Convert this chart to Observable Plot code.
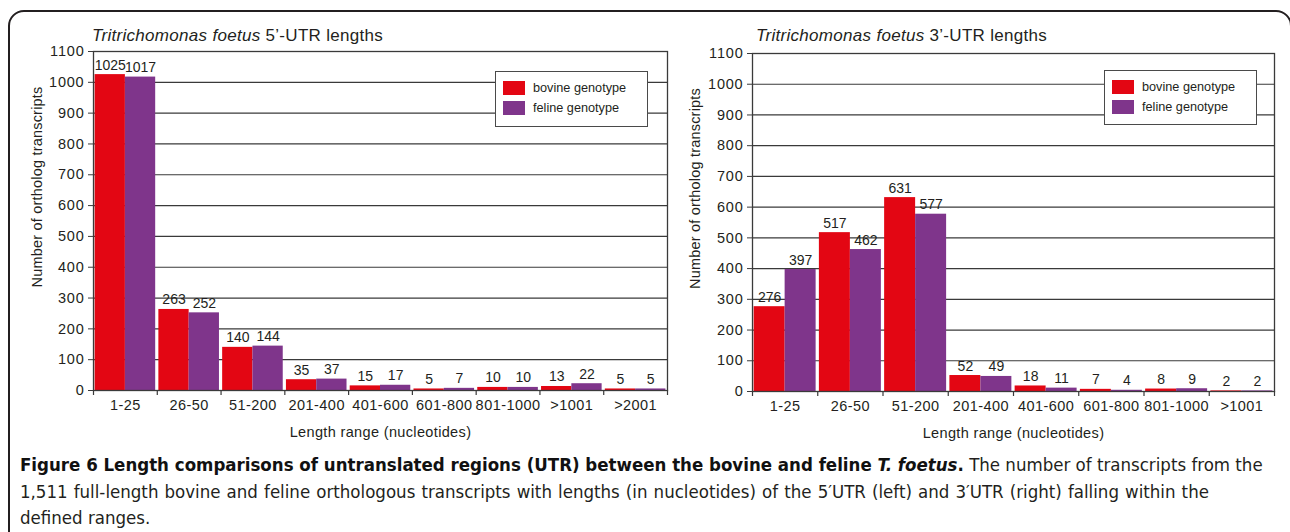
<!DOCTYPE html>
<html>
<head>
<meta charset="utf-8">
<script src="https://cdn.jsdelivr.net/npm/d3@7"></script>
<script src="https://cdn.jsdelivr.net/npm/@observablehq/plot@0.6"></script>
<style>
  html, body { margin: 0; padding: 0; background: #fff; }
  #wrap { position: relative; width: 1290px; height: 532px; overflow: hidden; background: #fff;
          font-family: "Liberation Sans", Arial, sans-serif; color: #231f20; }
  #border { position: absolute; left: 8px; top: 10px; width: 1284px; height: 600px;
            border: 2px solid #231f20; border-radius: 16px; box-sizing: border-box; }
  .chart { position: absolute; }
  .chart svg g[aria-label="y-axis tick label"] text { letter-spacing: 0.8px; }
  .chart svg g[aria-label="x-axis tick label"] text { letter-spacing: 0.45px; }
  .chart svg g.ylab text { letter-spacing: 0.2px; }
  .chart svg g[aria-label="x-axis label"] text { letter-spacing: 0.35px; }
  .title { position: absolute; font-size: 17px; line-height: 20px; white-space: nowrap; letter-spacing: 0.3px; }
  .legend { position: absolute; border: 1.5px solid #4a4a4a; background: #fff; box-sizing: border-box; }
  .legend .item { position: absolute; left: 7px; height: 14px; font-size: 12.7px; line-height: 14px; white-space: nowrap; }
  .legend .sw { display: inline-block; width: 22px; height: 14px; vertical-align: top; margin-right: 8px; }
  #caption { position: absolute; left: 20px; top: 452px; font-family: "Liberation Sans Narrow", "DejaVu Sans Condensed", "Arial Narrow", sans-serif;
             font-size: 18.5px; line-height: 26.5px; color: #231f20; white-space: nowrap; }
  #caption b { color: #111; }
  #caption .l2 { word-spacing: 0.8px; }
</style>
</head>
<body>
<div id="wrap">
  <div id="border"></div>
  <div class="title" style="left:92px; top:26px;"><i>Tritrichomonas foetus</i> 5’-UTR lengths</div>
  <div class="title" style="left:756px; top:26px;"><i>Tritrichomonas foetus</i> 3’-UTR lengths</div>
  <div id="left" class="chart" style="left:10px; top:40px;"></div>
  <div id="right" class="chart" style="left:680px; top:40px;"></div>
  <div id="legL" class="legend" style="left:495px; top:71px; width:153px; height:56px;"></div>
  <div id="legR" class="legend" style="left:1104px; top:70px; width:153px; height:55px;"></div>
  <div id="caption">
    <b>Figure 6 Length comparisons of untranslated regions (UTR) between the bovine and feline <i>T. foetus</i>.</b> The number of transcripts from the<br>
    <span class="l2">1,511 full-length bovine and feline orthologous transcripts with lengths (in nucleotides) of the 5′UTR (left) and 3′UTR (right) falling within the</span><br>
    defined ranges.
  </div>
</div>
<script>
// ---- data ----
const cats5 = ["1-25", "26-50", "51-200", "201-400", "401-600", "601-800", "801-1000", ">1001", ">2001"];
const bovine5 = [1025, 263, 140, 35, 15, 5, 10, 13, 5];
const feline5 = [1017, 252, 144, 37, 17, 7, 10, 22, 5];

const cats3 = ["1-25", "26-50", "51-200", "201-400", "401-600", "601-800", "801-1000", ">1001"];
const bovine3 = [276, 517, 631, 52, 18, 7, 8, 2];
const feline3 = [397, 462, 577, 49, 11, 4, 9, 2];

const yTicks = [0, 100, 200, 300, 400, 500, 600, 700, 800, 900, 1000, 1100];
const seriesNames = ["bovine genotype", "feline genotype"];
const seriesColors = ["#e30613", "#7f358b"];
const yLabel = "Number of ortholog transcripts";
const xLabel = "Length range (nucleotides)";

function makeChart({cats, bovine, feline, width, height, ml, mr, mt, mb, ylDx, ylDy}) {
  const pi = 0.05, po = 0.025;
  const plotW = width - ml - mr;
  const plotH = height - mt - mb;
  const step = plotW / (cats.length - pi + 2 * po);
  const bw = step * (1 - pi);
  const bov = cats.map((c, i) => ({cat: c, v: bovine[i]}));
  const fel = cats.map((c, i) => ({cat: c, v: feline[i]}));
  const ink = "#231f20";
  const font = "'Liberation Sans', Arial, sans-serif";
  return Plot.plot({
    width, height,
    marginLeft: ml, marginRight: mr, marginTop: mt, marginBottom: mb,
    style: {fontFamily: font, fontSize: "14.5px", color: ink, background: "transparent", overflow: "visible"},
    x: {type: "band", domain: cats, paddingInner: pi, paddingOuter: po, align: 0.5, round: false},
    y: {domain: [0, 1100]},
    marks: [
      Plot.ruleY(yTicks, {stroke: "#3a3a3a", strokeWidth: 1.2}),
      Plot.barY(bov, {x: "cat", y: "v", fill: seriesColors[0], insetRight: bw / 2}),
      Plot.barY(fel, {x: "cat", y: "v", fill: seriesColors[1], insetLeft: bw / 2}),
      Plot.text(bov, {x: "cat", y: "v", text: d => String(d.v), dx: -bw / 4, dy: -5, lineAnchor: "bottom", fontSize: 14, fill: ink}),
      Plot.text(fel, {x: "cat", y: "v", text: d => String(d.v), dx: bw / 4, dy: -5, lineAnchor: "bottom", fontSize: 14, fill: ink}),
      Plot.ruleX(cats, {x: d => d, dx: -step / 2, insetTop: plotH, insetBottom: -5, stroke: "#3a3a3a", strokeWidth: 1.2}),
      Plot.ruleX([cats[cats.length - 1]], {x: d => d, dx: step / 2, insetTop: plotH, insetBottom: -5, stroke: "#3a3a3a", strokeWidth: 1.2}),
      Plot.frame({stroke: "#3a3a3a", strokeWidth: 1.3}),
      Plot.axisY({ticks: yTicks, tickSize: 5, tickPadding: 4, tickFormat: d => String(d), fontSize: 14.5,
                  stroke: "#3a3a3a", label: null}),
      Plot.text([yLabel], {text: d => d, frameAnchor: "left", rotate: -90, dx: ylDx, dy: ylDy,
                           textAnchor: "middle", lineAnchor: "middle", fontSize: 14.5, fill: ink, className: "ylab"}),
      Plot.axisX({tickSize: 0, tickPadding: 9, fontSize: 14.5,
                  label: xLabel, labelAnchor: "center", labelOffset: 46, labelArrow: "none"})
    ]
  });
}

const left = makeChart({cats: cats5, bovine: bovine5, feline: feline5, width: 662, height: 410, ml: 83, mr: 5, mt: 11, mb: 60, ylDx: -56, ylDy: -34});
const right = makeChart({cats: cats3, bovine: bovine3, feline: feline3, width: 599, height: 410, ml: 72, mr: 5, mt: 13, mb: 59, ylDx: -57, ylDy: -34});
document.getElementById("left").appendChild(left);
document.getElementById("right").appendChild(right);

function legend(el) {
  seriesNames.forEach((name, i) => {
    const it = document.createElement("div");
    it.className = "item";
    it.style.top = (i === 0 ? 8.5 : 28.5) + "px";
    const sw = document.createElement("span");
    sw.className = "sw";
    sw.style.background = seriesColors[i];
    it.appendChild(sw);
    it.appendChild(document.createTextNode(name));
    el.appendChild(it);
  });
}
legend(document.getElementById("legL"));
legend(document.getElementById("legR"));
</script>
</body>
</html>
